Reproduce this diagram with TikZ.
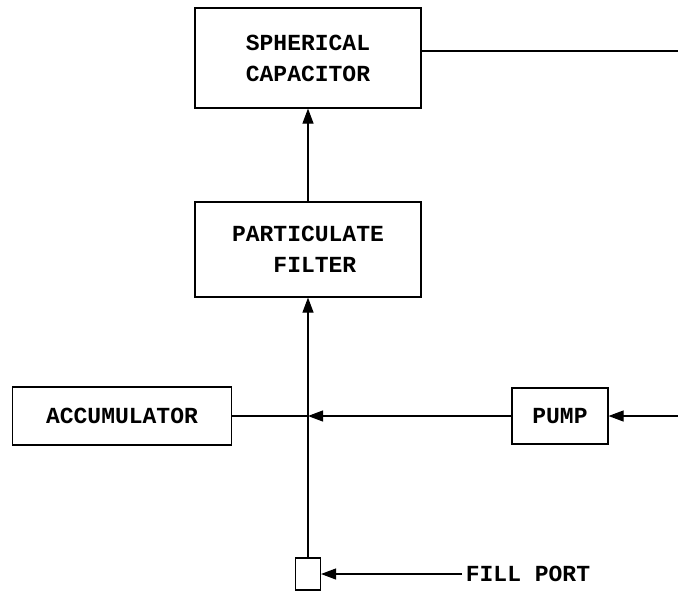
\documentclass[tikz,border=0pt]{standalone}
\usepackage{fontspec}
\setmonofont{Liberation Mono}
\usetikzlibrary{arrows.meta,positioning}

\begin{document}
\begin{tikzpicture}[x=1pt, y=1pt, line width=1.1pt,
  every node/.style={font=\ttfamily\bfseries\fontsize{23}{31}\selectfont},
  unit/.style={draw, align=center, inner sep=0pt},
  flow/.style={-{Triangle[length=15pt,width=11pt]}}]
\useasboundingbox (0,0) rectangle (678,-590);
% blocks
\node[unit, minimum width=226, minimum height=100] (cap) at (308,-58) {SPHERICAL\\CAPACITOR};
\node[unit, minimum width=226, minimum height=95] (filt) at (308,-249.5) {PARTICULATE\\\ FILTER};
\node[unit, minimum width=219, minimum height=58] (acc) at (122,-416) {ACCUMULATOR};
\node[unit, minimum width=96, minimum height=56] (pump) at (560,-416) {PUMP};
\node[unit, minimum width=25, minimum height=32] (port) at (308,-574) {};
\node[anchor=west] (fill) at (462,-574) {FILL PORT};
% junction and free ends
\coordinate (jn) at (308,-416);
\coordinate (capout) at (678,-51);
\coordinate (pumpin) at (678,-416);
% connectors
\draw[flow] (filt) -- (cap);
\draw[flow] (port) -- (filt);
\draw (acc) -- (jn);
\draw[flow] (pump) -- (jn);
\draw (cap.east |- capout) -- (capout);
\draw[flow] (pumpin) -- (pump);
\draw[flow] (fill) -- (port);
\end{tikzpicture}
\end{document}
